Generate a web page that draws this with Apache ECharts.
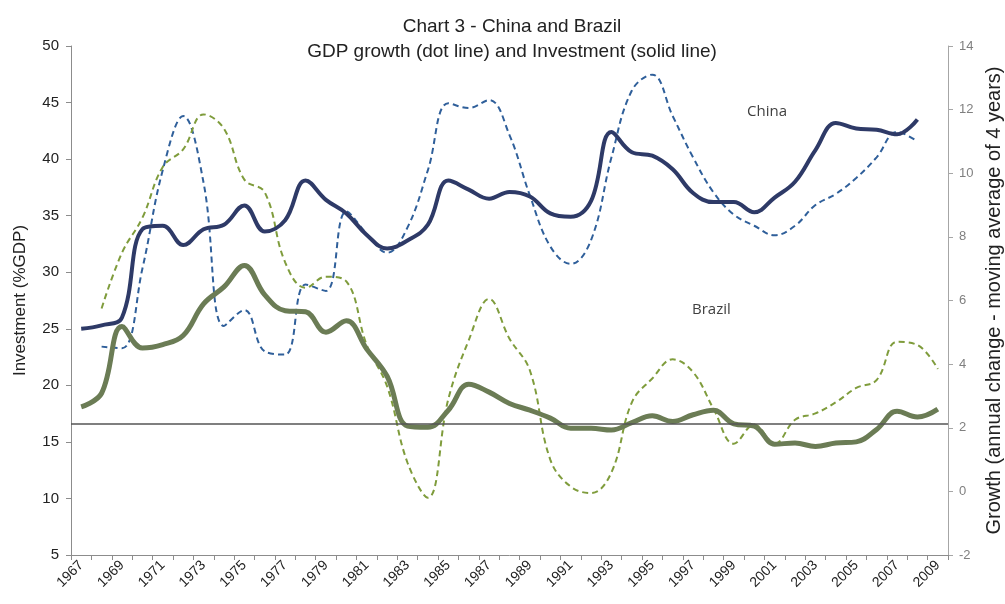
<!DOCTYPE html>
<html>
<head>
<meta charset="utf-8">
<script src="https://cdn.jsdelivr.net/npm/echarts@6/dist/echarts.min.js"></script>
<style>
html,body{margin:0;padding:0;background:#fff;}
#chart{width:1005px;height:604px;}
</style>
</head>
<body>
<div id="chart"></div>
<script>
const years = ['1967','1968','1969','1970','1971','1972','1973','1974','1975','1976','1977','1978','1979','1980','1981','1982','1983','1984','1985','1986','1987','1988','1989','1990','1991','1992','1993','1994','1995','1996','1997','1998','1999','2000','2001','2002','2003','2004','2005','2006','2007','2008','2009'];

// Investment (% GDP), left axis
const chinaInvestment = [25.0,25.3,26.0,33.8,34.1,32.4,33.8,34.2,35.9,33.6,34.6,38.1,36.4,35.2,33.3,32.1,32.8,34.2,38.1,37.3,36.5,37.1,36.7,35.2,34.9,36.3,42.4,40.6,40.3,39.1,37.0,36.2,36.2,35.3,36.6,38.0,40.8,43.2,42.7,42.6,42.2,43.5,null];
const brazilInvestment = [18.1,19.3,25.2,23.3,23.6,24.4,27.2,28.7,30.6,28.0,26.6,26.5,24.7,25.7,23.2,20.8,16.4,16.3,17.8,20.1,19.4,18.4,17.8,17.1,16.2,16.2,16.05,16.7,17.3,16.8,17.4,17.8,16.6,16.4,14.8,14.9,14.6,14.9,15.0,16.1,17.7,17.2,17.9];

// GDP growth (4-year moving average), right axis
const chinaGrowth = [null,4.55,4.5,7.0,10.1,11.8,9.7,5.2,5.7,4.4,4.3,6.5,6.3,8.8,8.1,7.5,8.3,10.1,12.2,12.05,12.3,11.2,9.3,7.7,7.15,7.9,10.5,12.6,13.1,11.8,10.5,9.4,8.7,8.35,8.05,8.35,9.0,9.35,9.85,10.5,11.3,11.0,null];
const brazilGrowth = [null,5.75,7.5,8.6,10.2,10.75,11.85,11.4,9.8,9.4,7.2,6.4,6.75,6.6,4.6,3.3,0.9,-0.2,2.9,4.75,6.05,4.8,3.8,1.0,0.15,-0.05,0.6,2.8,3.55,4.15,3.75,2.6,1.5,2.1,1.5,2.25,2.45,2.8,3.25,3.5,4.7,4.6,3.85];

const referenceLevel = 16.6;

const leftTicks = {min:5, max:50, interval:5};
const rightTicks = {min:-2, max:14, interval:2};

const chart = echarts.init(document.getElementById('chart'), null, {renderer:'canvas'});
const baseFont = 'Liberation Sans, Arial, sans-serif';
const smoothness = 0.4;

chart.setOption({
  animation:false,
  backgroundColor:'#ffffff',
  title:{
    text:'Chart 3 - China and Brazil\nGDP growth (dot line) and Investment (solid line)',
    left:507, top:9, textAlign:'center',
    textStyle:{fontFamily:baseFont, fontSize:19, fontWeight:'normal', color:'#222', lineHeight:25}
  },
  grid:{left:71, right:57, top:46, bottom:49, outerBoundsMode:'none', containLabel:false},
  xAxis:{
    type:'category', data:years, boundaryGap:true,
    axisLine:{onZero:false, lineStyle:{color:'#8c8c8c', width:1}},
    axisTick:{show:true, interval:0, length:5, lineStyle:{color:'#8c8c8c'}},
    axisLabel:{interval:1, rotate:45, fontFamily:baseFont, fontSize:14, color:'#222', margin:8}
  },
  yAxis:[
    {
      type:'value', min:leftTicks.min, max:leftTicks.max, interval:leftTicks.interval,
      name:'Investment (%GDP)', nameLocation:'middle', nameGap:42, nameRotate:90,
      nameTextStyle:{fontFamily:baseFont, fontSize:17, color:'#222'},
      axisLine:{show:true, onZero:false, lineStyle:{color:'#8c8c8c'}},
      axisTick:{show:true, length:5, lineStyle:{color:'#8c8c8c'}},
      axisLabel:{fontFamily:baseFont, fontSize:15, color:'#222', margin:12},
      splitLine:{show:false}
    },
    {
      type:'value', min:rightTicks.min, max:rightTicks.max, interval:rightTicks.interval, position:'right',
      name:'Growth (annual change - moving average of 4 years)', nameLocation:'middle', nameGap:35, nameRotate:90,
      nameTextStyle:{fontFamily:baseFont, fontSize:20, color:'#222'},
      axisLine:{show:true, onZero:false, lineStyle:{color:'#a6a6a6'}},
      axisTick:{show:true, length:5, lineStyle:{color:'#a6a6a6'}},
      axisLabel:{fontFamily:baseFont, fontSize:13, color:'#7f7f7f', margin:11},
      splitLine:{show:false}
    }
  ],
  graphic:[
    {type:'text', left:747, top:104, style:{text:'China', fontFamily:'Open Sans, sans-serif', fontSize:15, fill:'#404040'}},
    {type:'text', left:692, top:302, style:{text:'Brazil', fontFamily:'Open Sans, sans-serif', fontSize:15, fill:'#404040'}}
  ],
  series:[
    {
      name:'China investment', type:'line', yAxisIndex:0, data:chinaInvestment, smooth:smoothness, symbol:'none',
      lineStyle:{color:'#2e3a67', width:4}, z:4
    },
    {
      name:'Brazil investment', type:'line', yAxisIndex:0, data:brazilInvestment, smooth:smoothness, symbol:'none',
      lineStyle:{color:'#6b7c55', width:5}, z:4,
      markLine:{silent:true, symbol:'none', label:{show:false},
        lineStyle:{color:'#555', width:1.5, type:'solid'},
        data:[{yAxis:referenceLevel}]}
    },
    {
      name:'China growth', type:'line', yAxisIndex:1, data:chinaGrowth, smooth:smoothness, symbol:'none',
      lineStyle:{color:'#2f5f9a', width:2, type:[6,4]}, z:3
    },
    {
      name:'Brazil growth', type:'line', yAxisIndex:1, data:brazilGrowth, smooth:smoothness, symbol:'none',
      lineStyle:{color:'#7f9c3c', width:2, type:[6,4]}, z:3
    }
  ]
});
</script>
</body>
</html>
